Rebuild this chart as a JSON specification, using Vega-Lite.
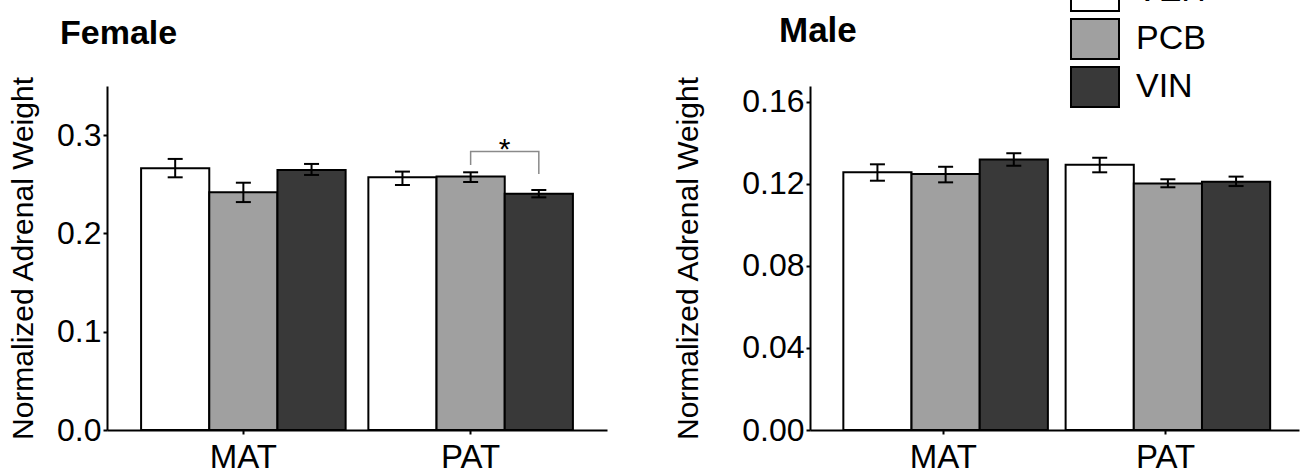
{
  "$schema": "https://vega.github.io/schema/vega-lite/v6.json",
  "background": "white",
  "padding": {"left": 8, "top": -31, "right": 5, "bottom": 5},
  "spacing": 66,
  "config": {
    "view": {"stroke": null},
    "font": "Liberation Sans",
    "axis": {
      "domainColor": "black", "domainWidth": 2, "tickColor": "black", "tickWidth": 2, "tickSize": 4,
      "labelColor": "black", "titleColor": "black", "grid": false, "titleFontWeight": "normal"
    },
    "legend": {"orient": "none", "legendX": 966, "legendY": -117, "title": null, "padding": 0,
               "symbolType": "M-1.143,-0.952L1.143,-0.952L1.143,0.952L-1.143,0.952Z", "symbolSize": 1764,
               "symbolStrokeColor": "black", "symbolStrokeWidth": 2, "symbolOpacity": 1,
               "labelFontSize": 34, "labelColor": "black", "labelOffset": 19, "rowPadding": 0, "symbolOffset": 0}
  },
  "datasets": {
    "female": [
      {"group": "MAT", "treatment": "VEH", "mean": 0.2663, "lo": 0.2571, "hi": 0.2758},
      {"group": "MAT", "treatment": "PCB", "mean": 0.2418, "lo": 0.2319, "hi": 0.2516},
      {"group": "MAT", "treatment": "VIN", "mean": 0.2646, "lo": 0.2595, "hi": 0.2707},
      {"group": "PAT", "treatment": "VEH", "mean": 0.2571, "lo": 0.2493, "hi": 0.2629},
      {"group": "PAT", "treatment": "PCB", "mean": 0.2578, "lo": 0.2523, "hi": 0.2622},
      {"group": "PAT", "treatment": "VIN", "mean": 0.2404, "lo": 0.2367, "hi": 0.2442}
    ],
    "male": [
      {"group": "MAT", "treatment": "VEH", "mean": 0.1257, "lo": 0.1216, "hi": 0.1296},
      {"group": "MAT", "treatment": "PCB", "mean": 0.1249, "lo": 0.1208, "hi": 0.1284},
      {"group": "MAT", "treatment": "VIN", "mean": 0.1320, "lo": 0.1289, "hi": 0.1350},
      {"group": "PAT", "treatment": "VEH", "mean": 0.1294, "lo": 0.1257, "hi": 0.1328},
      {"group": "PAT", "treatment": "PCB", "mean": 0.1203, "lo": 0.1184, "hi": 0.1223},
      {"group": "PAT", "treatment": "VIN", "mean": 0.1211, "lo": 0.1190, "hi": 0.1236}
    ],
    "bracket": [
      {"group": "PAT", "treatment": "PCB", "y": 0.2697, "order": 1},
      {"group": "PAT", "treatment": "PCB", "y": 0.2833, "order": 2},
      {"group": "PAT", "treatment": "VIN", "y": 0.2833, "order": 3},
      {"group": "PAT", "treatment": "VIN", "y": 0.2605, "order": 4}
    ],
    "star": [
      {"group": "PAT", "label": "*", "y": 0.276}
    ]
  },
  "resolve": {"scale": {"x": "independent", "y": "independent"}},
  "hconcat": [
    {
      "width": 500,
      "height": 344,
      "title": {"text": "Female", "anchor": "start", "frame": "group", "fontSize": 34, "fontWeight": "bold", "color": "black", "dx": -47, "dy": 11, "offset": 9, "baseline": "alphabetic"},
      "layer": [
        {
          "data": {"name": "female"},
          "mark": {"type": "bar", "stroke": "black", "strokeWidth": 2},
          "encoding": {
            "x": {"field": "group", "type": "nominal", "title": null, "scale": {"paddingInner": 0.1, "paddingOuter": 0.15},
                  "axis": {"labelAngle": 0, "labelFontSize": 33, "labelPadding": 7, "tickSize": 4}},
            "xOffset": {"field": "treatment", "type": "nominal", "scale": {"domain": ["VEH", "PCB", "VIN"], "paddingInner": 0, "paddingOuter": 0}},
            "y": {"field": "mean", "type": "quantitative", "title": "Normalized Adrenal Weight",
                  "scale": {"domain": [0, 0.35], "nice": false},
                  "axis": {"values": [0, 0.1, 0.2, 0.3], "format": ".1f", "labelFontSize": 32, "labelPadding": 2, "titleFontSize": 30, "titlePadding": 18}},
            "color": {"field": "treatment", "type": "nominal", "scale": {"domain": ["VEH", "PCB", "VIN"], "range": ["#ffffff", "#a0a0a0", "#393939"]}}
          }
        },
        {
          "data": {"name": "female"},
          "mark": {"type": "rule", "color": "black", "strokeWidth": 2},
          "encoding": {
            "x": {"field": "group", "type": "nominal"},
            "xOffset": {"field": "treatment", "type": "nominal"},
            "y": {"field": "lo", "type": "quantitative"},
            "y2": {"field": "hi"}
          }
        },
        {
          "data": {"name": "female"},
          "mark": {"type": "tick", "color": "black", "thickness": 2, "size": 15, "opacity": 1},
          "encoding": {
            "x": {"field": "group", "type": "nominal"},
            "xOffset": {"field": "treatment", "type": "nominal"},
            "y": {"field": "lo", "type": "quantitative"}
          }
        },
        {
          "data": {"name": "female"},
          "mark": {"type": "tick", "color": "black", "thickness": 2, "size": 15, "opacity": 1},
          "encoding": {
            "x": {"field": "group", "type": "nominal"},
            "xOffset": {"field": "treatment", "type": "nominal"},
            "y": {"field": "hi", "type": "quantitative"}
          }
        },
        {
          "data": {"name": "bracket"},
          "mark": {"type": "line", "color": "#8a8a8a", "strokeWidth": 1.5},
          "encoding": {
            "x": {"field": "group", "type": "nominal"},
            "xOffset": {"field": "treatment", "type": "nominal"},
            "y": {"field": "y", "type": "quantitative"},
            "order": {"field": "order", "type": "quantitative"}
          }
        },
        {
          "data": {"name": "star"},
          "mark": {"type": "text", "fontSize": 30, "color": "black", "baseline": "alphabetic", "dx": 34},
          "encoding": {
            "x": {"field": "group", "type": "nominal"},
            "y": {"field": "y", "type": "quantitative"},
            "text": {"field": "label"}
          }
        }
      ]
    },
    {
      "width": 489,
      "height": 344,
      "title": {"text": "Male", "anchor": "start", "frame": "group", "fontSize": 35, "fontWeight": "bold", "color": "black", "dx": -31, "dy": 11, "offset": 10, "baseline": "alphabetic"},
      "layer": [
        {
          "data": {"name": "male"},
          "mark": {"type": "bar", "stroke": "black", "strokeWidth": 2},
          "encoding": {
            "x": {"field": "group", "type": "nominal", "title": null, "scale": {"paddingInner": 0.1, "paddingOuter": 0.15},
                  "axis": {"labelAngle": 0, "labelFontSize": 33, "labelPadding": 7, "tickSize": 4}},
            "xOffset": {"field": "treatment", "type": "nominal", "scale": {"domain": ["VEH", "PCB", "VIN"], "paddingInner": 0, "paddingOuter": 0}},
            "y": {"field": "mean", "type": "quantitative", "title": "Normalized Adrenal Weight",
                  "scale": {"domain": [0, 0.1678], "nice": false},
                  "axis": {"values": [0, 0.04, 0.08, 0.12, 0.16], "format": ".2f", "labelFontSize": 32, "labelPadding": 2, "titleFontSize": 30, "titlePadding": 38}},
            "color": {"field": "treatment", "type": "nominal", "scale": {"domain": ["VEH", "PCB", "VIN"], "range": ["#ffffff", "#a0a0a0", "#393939"]}}
          }
        },
        {
          "data": {"name": "male"},
          "mark": {"type": "rule", "color": "black", "strokeWidth": 2},
          "encoding": {
            "x": {"field": "group", "type": "nominal"},
            "xOffset": {"field": "treatment", "type": "nominal"},
            "y": {"field": "lo", "type": "quantitative"},
            "y2": {"field": "hi"}
          }
        },
        {
          "data": {"name": "male"},
          "mark": {"type": "tick", "color": "black", "thickness": 2, "size": 15, "opacity": 1},
          "encoding": {
            "x": {"field": "group", "type": "nominal"},
            "xOffset": {"field": "treatment", "type": "nominal"},
            "y": {"field": "lo", "type": "quantitative"}
          }
        },
        {
          "data": {"name": "male"},
          "mark": {"type": "tick", "color": "black", "thickness": 2, "size": 15, "opacity": 1},
          "encoding": {
            "x": {"field": "group", "type": "nominal"},
            "xOffset": {"field": "treatment", "type": "nominal"},
            "y": {"field": "hi", "type": "quantitative"}
          }
        }
      ]
    }
  ]
}
